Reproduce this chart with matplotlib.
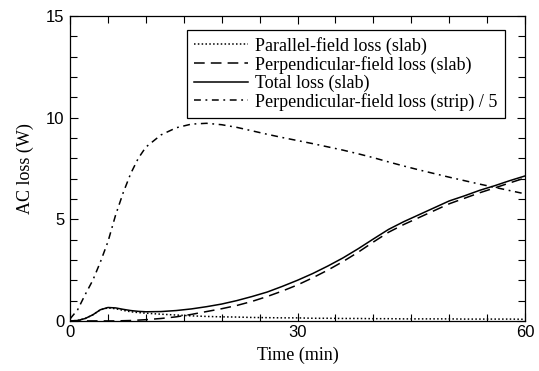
import matplotlib
matplotlib.use("Agg")
import matplotlib.pyplot as plt
from matplotlib.ticker import MultipleLocator

# time (min)
time = [0, 1, 2, 3, 4, 5, 6, 7, 8, 9, 10, 12, 14, 16, 18, 20, 22, 24, 26, 28,
        30, 32, 34, 36, 38, 40, 42, 44, 46, 48, 50, 52, 54, 56, 58, 60]

# AC loss (W)
parallel_slab = [0.0, 0.02, 0.12, 0.3, 0.55, 0.64, 0.6, 0.52, 0.45, 0.41, 0.38, 0.33,
                 0.29, 0.25, 0.22, 0.2, 0.19, 0.17, 0.16, 0.15, 0.15, 0.13, 0.13, 0.12,
                 0.12, 0.11, 0.11, 0.1, 0.1, 0.1, 0.1, 0.09, 0.09, 0.09, 0.09, 0.08]
perp_slab = [0.0, 0.0, 0.0, 0.0, 0.0, 0.0, 0.0, 0.01, 0.02, 0.04, 0.06, 0.12,
             0.2, 0.32, 0.46, 0.6, 0.76, 0.96, 1.2, 1.47, 1.77, 2.12, 2.5, 2.92,
             3.38, 3.88, 4.36, 4.74, 5.08, 5.42, 5.76, 6.03, 6.3, 6.54, 6.79, 7.03]
total_slab = [0.0, 0.02, 0.12, 0.3, 0.55, 0.66, 0.64, 0.57, 0.51, 0.47, 0.45, 0.46,
              0.51, 0.59, 0.7, 0.83, 1.0, 1.2, 1.42, 1.7, 2.0, 2.33, 2.7, 3.1,
              3.55, 4.03, 4.5, 4.88, 5.22, 5.56, 5.9, 6.15, 6.42, 6.65, 6.9, 7.13]
perp_strip_div5 = [0.1, 0.55, 1.3, 2.0, 2.9, 3.9, 5.2, 6.3, 7.25, 8.0, 8.55, 9.15,
                   9.5, 9.68, 9.72, 9.65, 9.52, 9.35, 9.18, 9.02, 8.87, 8.72, 8.56, 8.4,
                   8.22, 8.03, 7.82, 7.62, 7.43, 7.25, 7.07, 6.9, 6.73, 6.57, 6.41, 6.25]

labels = ["Parallel-field loss (slab)",
          "Perpendicular-field loss (slab)",
          "Total loss (slab)",
          "Perpendicular-field loss (strip) / 5"]

plt.rcParams["font.family"] = "Liberation Serif"

fig = plt.figure(figsize=(5.39, 3.71), dpi=100)
ax = fig.add_axes([0.130, 0.135, 0.844, 0.822])

lw = 1.1
ax.plot(time, parallel_slab, color="black", lw=lw, linestyle=(0, (1, 1.5)), label=labels[0])
ax.plot(time, perp_slab, color="black", lw=lw, linestyle=(0, (7, 4)), label=labels[1])
ax.plot(time, total_slab, color="black", lw=lw, linestyle="-", label=labels[2])
ax.plot(time, perp_strip_div5, color="black", lw=lw, linestyle=(0, (4.5, 3, 1.2, 3)), label=labels[3])

ax.set_xlim(0, 60)
ax.set_ylim(0, 15)
ax.xaxis.set_major_locator(MultipleLocator(30))
ax.xaxis.set_minor_locator(MultipleLocator(5))
ax.yaxis.set_major_locator(MultipleLocator(5))
ax.yaxis.set_minor_locator(MultipleLocator(1))
ax.tick_params(which="both", direction="in", top=True, right=True, width=0.8)
ax.tick_params(which="major", length=5.5)
ax.tick_params(which="minor", length=5)
for lab in ax.get_xticklabels() + ax.get_yticklabels():
    lab.set_fontfamily("Liberation Sans")
    lab.set_fontsize(12)
ax.tick_params(axis="x", pad=3)
ax.tick_params(axis="y", pad=4)
for s in ax.spines.values():
    s.set_linewidth(0.9)

ax.set_xlabel("Time (min)", fontsize=13, labelpad=5)
ax.set_ylabel("AC loss (W)", fontsize=13, labelpad=9)

leg = ax.legend(loc="upper right", fontsize=13, frameon=True, fancybox=False,
                edgecolor="black", framealpha=1, handlelength=3.0, handletextpad=0.4,
                labelspacing=0.05, borderpad=0.4, borderaxespad=0.0,
                bbox_to_anchor=(0.956, 0.955))
leg.get_frame().set_linewidth(0.9)

fig.savefig("out.png", dpi=100)
